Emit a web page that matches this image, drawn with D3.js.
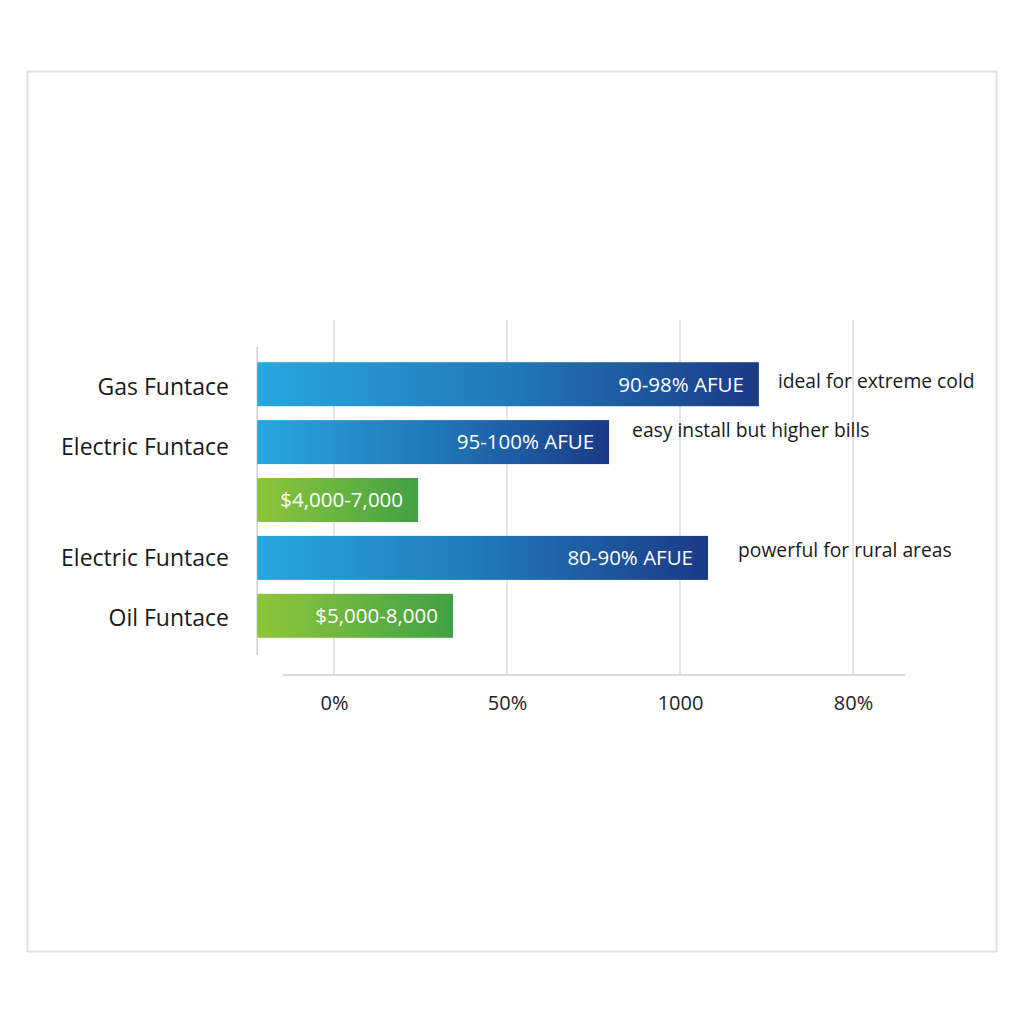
<!DOCTYPE html>
<html><head><meta charset="utf-8">
<script src="https://cdn.jsdelivr.net/npm/d3@7"></script>
<style>body{margin:0;background:#fff;}svg{display:block;font-family:"Open Sans","Noto Sans",sans-serif;}</style>
</head><body><svg id="c" width="1024" height="1024"></svg>
<script>
const categories = ["Gas Funtace","Electric Funtace","","Electric Funtace","Oil Funtace"];
const values = [122.8, 79.5, 24.3, 108.1, 34.4];
const barKinds = ["blue","blue","green","blue","green"];
const barLabels = ["90-98% AFUE","95-100% AFUE","$4,000-7,000","80-90% AFUE","$5,000-8,000"];
const notes = ["ideal for extreme cold","easy install but higher bills","","powerful for rural areas",""];
const tickValues = [0, 50, 100, 150];
const tickLabels = ["0%","50%","1000","80%"];
const domainMin = -22.2;

const svg = d3.select("#c");
svg.append("rect").attr("x",0).attr("y",0).attr("width",1024).attr("height",1024).attr("fill","#fff");
svg.append("rect").attr("x",27.5).attr("y",71.5).attr("width",969).attr("height",880)
  .attr("fill","#fff").attr("stroke","#e0e0e0").attr("stroke-width",2);

const x = d3.scaleLinear().domain([0,150]).range([334,853]);
const idx = categories.map((d,i)=>i);
const y = d3.scaleBand().domain(idx).range([355,645]).paddingInner(0.24).paddingOuter(0.1245);

const defs = svg.append("defs");
const gb = defs.append("linearGradient").attr("id","gBlue").attr("x1","0").attr("x2","1").attr("y1","0").attr("y2","0");
gb.append("stop").attr("offset","0").attr("stop-color","#28a7e0");
gb.append("stop").attr("offset","0.5").attr("stop-color","#2179b8");
gb.append("stop").attr("offset","1").attr("stop-color","#1b3a86");
const gg = defs.append("linearGradient").attr("id","gGreen").attr("x1","0").attr("x2","1").attr("y1","0").attr("y2","0");
gg.append("stop").attr("offset","0").attr("stop-color","#8fc63a");
gg.append("stop").attr("offset","1").attr("stop-color","#41a146");

// gridlines
svg.append("g").selectAll("line").data(tickValues).join("line")
  .attr("x1",d=>x(d)).attr("x2",d=>x(d)).attr("y1",320).attr("y2",675)
  .attr("stroke","#dcdcdc").attr("stroke-width",1.5);

// bottom axis
const ax = svg.append("g").attr("transform","translate(0,675)")
  .call(d3.axisBottom(x).tickValues(tickValues).tickFormat((d,i)=>tickLabels[i]).tickSize(0).tickPadding(21));
ax.select(".domain").remove();
ax.selectAll("text").attr("font-size",20).attr("fill","#222").attr("font-family","Open Sans");
svg.append("line").attr("x1",283).attr("x2",905).attr("y1",675).attr("y2",675).attr("stroke","#dcdcdc").attr("stroke-width",2);

// left axis line
svg.append("line").attr("x1",x(domainMin)).attr("x2",x(domainMin)).attr("y1",347).attr("y2",655)
  .attr("stroke","#cfcfcf").attr("stroke-width",1.5);

// bars
const g = svg.append("g");
g.selectAll("rect").data(idx).join("rect")
  .attr("x",x(domainMin)).attr("y",i=>y(i)).attr("width",i=>x(values[i])-x(domainMin)).attr("height",y.bandwidth())
  .attr("fill",i=>barKinds[i]==="blue"?"url(#gBlue)":"url(#gGreen)");

g.selectAll("text.bl").data(idx).join("text").attr("class","bl")
  .attr("x",i=>x(values[i])-15).attr("y",i=>y(i)+y.bandwidth()/2).attr("dy","0.36em")
  .attr("text-anchor","end").attr("font-size",20.5).attr("fill","#fff").text(i=>barLabels[i]);

// category labels
const catOffset = [3,5,0,0,2];
svg.append("g").selectAll("text").data(idx).join("text")
  .attr("x",229).attr("y",i=>y(i)+y.bandwidth()/2+catOffset[i]).attr("dy","0.36em")
  .attr("text-anchor","end").attr("font-size",23).attr("fill","#1a1a1a").text(i=>categories[i]);

// notes
const noteDx = [19, 23, 0, 30, 0];
const noteDy = [-3, -12, 0, -8, 0];
svg.append("g").selectAll("text").data(idx.filter(i=>notes[i])).join("text")
  .attr("x",i=>x(values[i])+noteDx[i]).attr("y",i=>y(i)+y.bandwidth()/2+noteDy[i]).attr("dy","0.36em")
  .attr("font-size",19.3).attr("fill","#1a1a1a").text(i=>notes[i]);
</script></body></html>
